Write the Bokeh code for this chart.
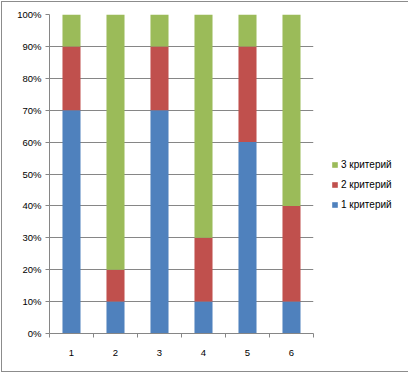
from bokeh.plotting import figure
from bokeh.models import ColumnDataSource, Range1d, FixedTicker, NumeralTickFormatter, Legend, LegendItem
from bokeh.embed import file_html
from bokeh.resources import INLINE

categories = ["1", "2", "3", "4", "5", "6"]
series_names = ["1 критерий", "2 критерий", "3 критерий"]
crit1 = [0.7, 0.1, 0.7, 0.1, 0.6, 0.1]
crit2 = [0.2, 0.1, 0.2, 0.2, 0.3, 0.3]
crit3 = [0.1, 0.8, 0.1, 0.7, 0.1, 0.6]
colors = ["#4F81BD", "#C0504D", "#9BBB59"]
yticks = [i / 10 for i in range(11)]

xpos = list(range(1, len(categories) + 1))
source = ColumnDataSource(dict(x=xpos, c1=crit1, c2=crit2, c3=crit3))

GRAY = "#868686"
FONT = "Liberation Sans"

p = figure(frame_width=264, frame_height=319, output_backend="svg", toolbar_location=None,
           x_range=Range1d(0.5, len(categories) + 0.5), y_range=Range1d(0, 1),
           min_border_left=47, min_border_right=92, min_border_top=12, min_border_bottom=38)
p.styles = {"border": "1px solid #8c8c8c", "margin": "1px 0 0 1px"}
p.outline_line_color = None
p.background_fill_color = "white"
p.border_fill_color = "white"

renderers = p.vbar_stack(["c1", "c2", "c3"], x="x", width=0.41, source=source,
                         color=colors, line_color=None)

# axes
p.xaxis.ticker = FixedTicker(ticks=xpos, minor_ticks=[x - 0.5 for x in xpos] + [xpos[-1] + 0.5])
p.xaxis.major_label_overrides = {x: c for x, c in zip(xpos, categories)}
p.xaxis.major_tick_out = 0
p.xaxis.major_tick_in = 0
p.xaxis.minor_tick_out = 4
p.xaxis.minor_tick_in = 0
p.xaxis.minor_tick_line_color = GRAY
p.xaxis.major_label_standoff = 12

p.yaxis.ticker = FixedTicker(ticks=yticks, minor_ticks=[])
p.yaxis.formatter = NumeralTickFormatter(format="0%")
p.yaxis.major_tick_out = 4
p.yaxis.major_tick_in = 0
p.yaxis.major_label_standoff = 4

for ax in (p.xaxis, p.yaxis):
    ax.axis_line_color = GRAY
    ax.major_tick_line_color = GRAY
    ax.major_label_text_font = FONT
    ax.major_label_text_font_size = "9.5px"
    ax.major_label_text_color = "#000000"

p.xgrid.grid_line_color = None
p.ygrid.grid_line_color = GRAY
p.ygrid.ticker = FixedTicker(ticks=yticks)

items = [LegendItem(label=series_names[i], renderers=[renderers[i]]) for i in (2, 1, 0)]
legend = Legend(items=items, location=(18, 122))
legend.border_line_color = None
legend.background_fill_alpha = 0
legend.padding = 0
legend.margin = 0
legend.spacing = 7
legend.glyph_width = 7
legend.glyph_height = 7
legend.label_height = 13
legend.label_standoff = 3
legend.label_text_font = FONT
legend.label_text_font_size = "10px"
legend.label_text_color = "#000000"
p.add_layout(legend, "right")

open("out.html", "w").write(file_html(p, INLINE))
